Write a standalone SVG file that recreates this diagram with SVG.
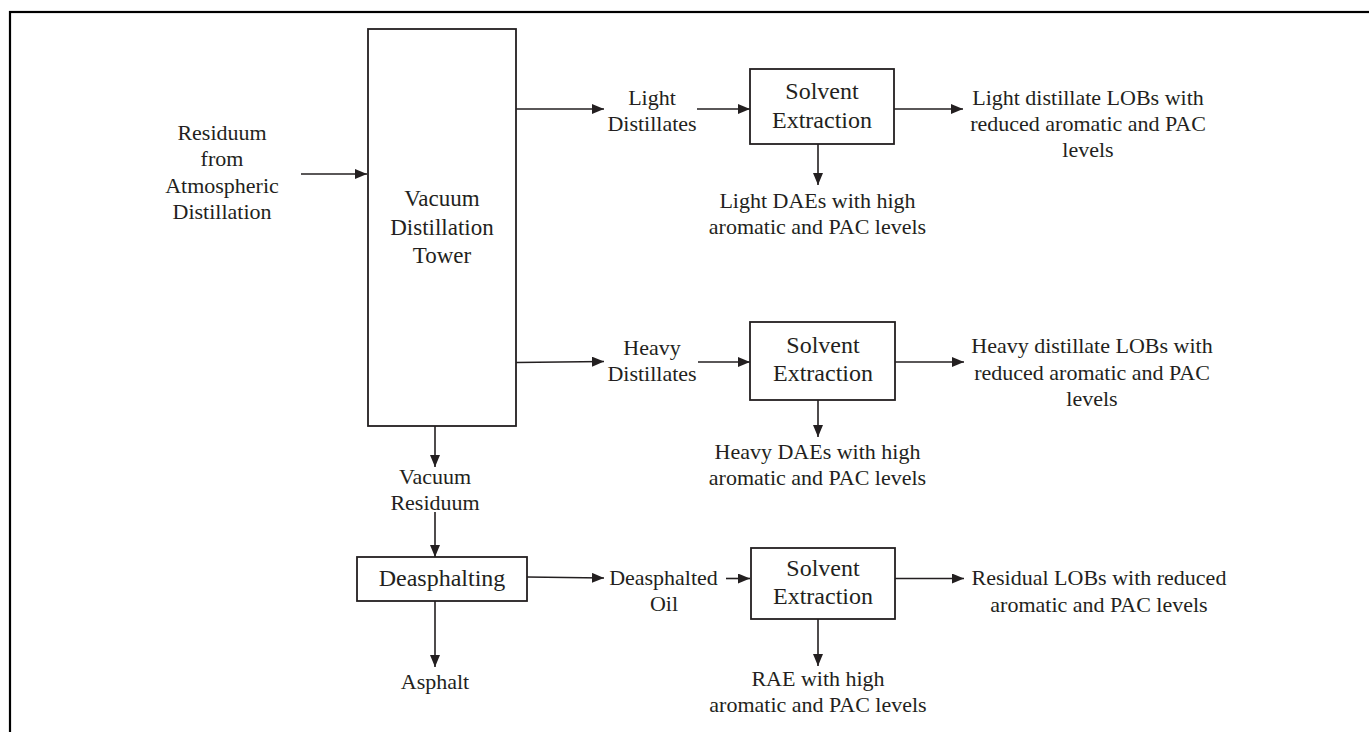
<svg xmlns="http://www.w3.org/2000/svg" width="1369" height="732" viewBox="0 0 1369 732">
<style>
text{font-family:"Liberation Serif","Times New Roman",serif;fill:#231f20;text-anchor:middle;font-size:22px}
.box{fill:#fff;stroke:#231f20;stroke-width:1.8}
.c{stroke:#231f20;stroke-width:1.6;fill:none;marker-end:url(#ah)}
.big{font-size:24px}
.twr{font-size:23px}
</style>
<defs>
<marker id="ah" viewBox="0 0 12 10" refX="12" refY="5" markerWidth="12" markerHeight="10" markerUnits="userSpaceOnUse" orient="auto">
<path d="M0,0 L12,5 L0,10 z" fill="#231f20"/>
</marker>
</defs>
<rect x="0" y="0" width="1369" height="732" fill="#fff"/>
<rect id="frame" x="10" y="12" width="1400" height="800" fill="none" stroke="#000" stroke-width="2.2"/>

<g id="connectors">
<line class="c" x1="301" y1="174" x2="367" y2="174"/>
<line class="c" x1="516" y1="109" x2="604" y2="109"/>
<line class="c" x1="697" y1="109" x2="750" y2="109"/>
<line class="c" x1="818" y1="144" x2="818" y2="185"/>
<line class="c" x1="894" y1="109" x2="963" y2="109"/>
<line class="c" x1="516" y1="362.5" x2="604" y2="361.5"/>
<line class="c" x1="698" y1="362" x2="750" y2="362"/>
<line class="c" x1="818" y1="400" x2="818" y2="437"/>
<line class="c" x1="895" y1="362" x2="964" y2="362"/>
<line class="c" x1="435" y1="426" x2="435" y2="467"/>
<line class="c" x1="435" y1="512" x2="435" y2="557"/>
<line class="c" x1="435" y1="601" x2="435" y2="667"/>
<line class="c" x1="527" y1="577" x2="604" y2="578"/>
<line class="c" x1="726" y1="578.5" x2="750" y2="578.5"/>
<line class="c" x1="818" y1="619" x2="818" y2="666"/>
<line class="c" x1="895" y1="578.5" x2="964" y2="578.5"/>
</g>

<g id="residuum-input">
<text x="222" y="140">Residuum</text>
<text x="222" y="166">from</text>
<text x="222" y="192.5">Atmospheric</text>
<text x="222" y="218.5">Distillation</text>
</g>

<g id="vacuum-tower">
<rect class="box" x="368" y="29" width="148" height="397"/>
<text class="twr" x="442" y="206">Vacuum</text>
<text class="twr" x="442" y="235">Distillation</text>
<text class="twr" x="442" y="263">Tower</text>
</g>

<g id="light-distillates">
<text x="652" y="105">Light</text>
<text x="652" y="130.5">Distillates</text>
</g>

<g id="solvent-extraction-1">
<rect class="box" x="750" y="69" width="144" height="75"/>
<text class="big" x="822" y="99">Solvent</text>
<text class="big" x="822" y="127.5">Extraction</text>
</g>

<g id="light-daes">
<text x="817.5" y="207.5">Light DAEs with high</text>
<text x="817.5" y="233.5">aromatic and PAC levels</text>
</g>

<g id="light-lobs">
<text x="1088" y="105">Light distillate LOBs with</text>
<text x="1088" y="130.5">reduced aromatic and PAC</text>
<text x="1088" y="156.5">levels</text>
</g>

<g id="heavy-distillates">
<text x="652" y="355">Heavy</text>
<text x="652" y="381">Distillates</text>
</g>

<g id="solvent-extraction-2">
<rect class="box" x="750" y="322" width="145" height="78"/>
<text class="big" x="823" y="352.5">Solvent</text>
<text class="big" x="823" y="381">Extraction</text>
</g>

<g id="heavy-daes">
<text x="817.5" y="459">Heavy DAEs with high</text>
<text x="817.5" y="484.5">aromatic and PAC levels</text>
</g>

<g id="heavy-lobs">
<text x="1092" y="353">Heavy distillate LOBs with</text>
<text x="1092" y="380">reduced aromatic and PAC</text>
<text x="1092" y="406">levels</text>
</g>

<g id="vacuum-residuum">
<text x="435" y="484">Vacuum</text>
<text x="435" y="510">Residuum</text>
</g>

<g id="deasphalting">
<rect class="box" x="357" y="557" width="170" height="44"/>
<text class="big" x="442" y="585.5">Deasphalting</text>
</g>

<g id="asphalt">
<text x="435" y="688.5">Asphalt</text>
</g>

<g id="deasphalted-oil">
<text x="663.5" y="584.5">Deasphalted</text>
<text x="664" y="610.5">Oil</text>
</g>

<g id="solvent-extraction-3">
<rect class="box" x="751" y="548" width="144" height="71"/>
<text class="big" x="823" y="576">Solvent</text>
<text class="big" x="823" y="604">Extraction</text>
</g>

<g id="rae">
<text x="818" y="685.5">RAE with high</text>
<text x="818" y="712">aromatic and PAC levels</text>
</g>

<g id="residual-lobs">
<text x="1099" y="585">Residual LOBs with reduced</text>
<text x="1099" y="611.5">aromatic and PAC levels</text>
</g>
</svg>
